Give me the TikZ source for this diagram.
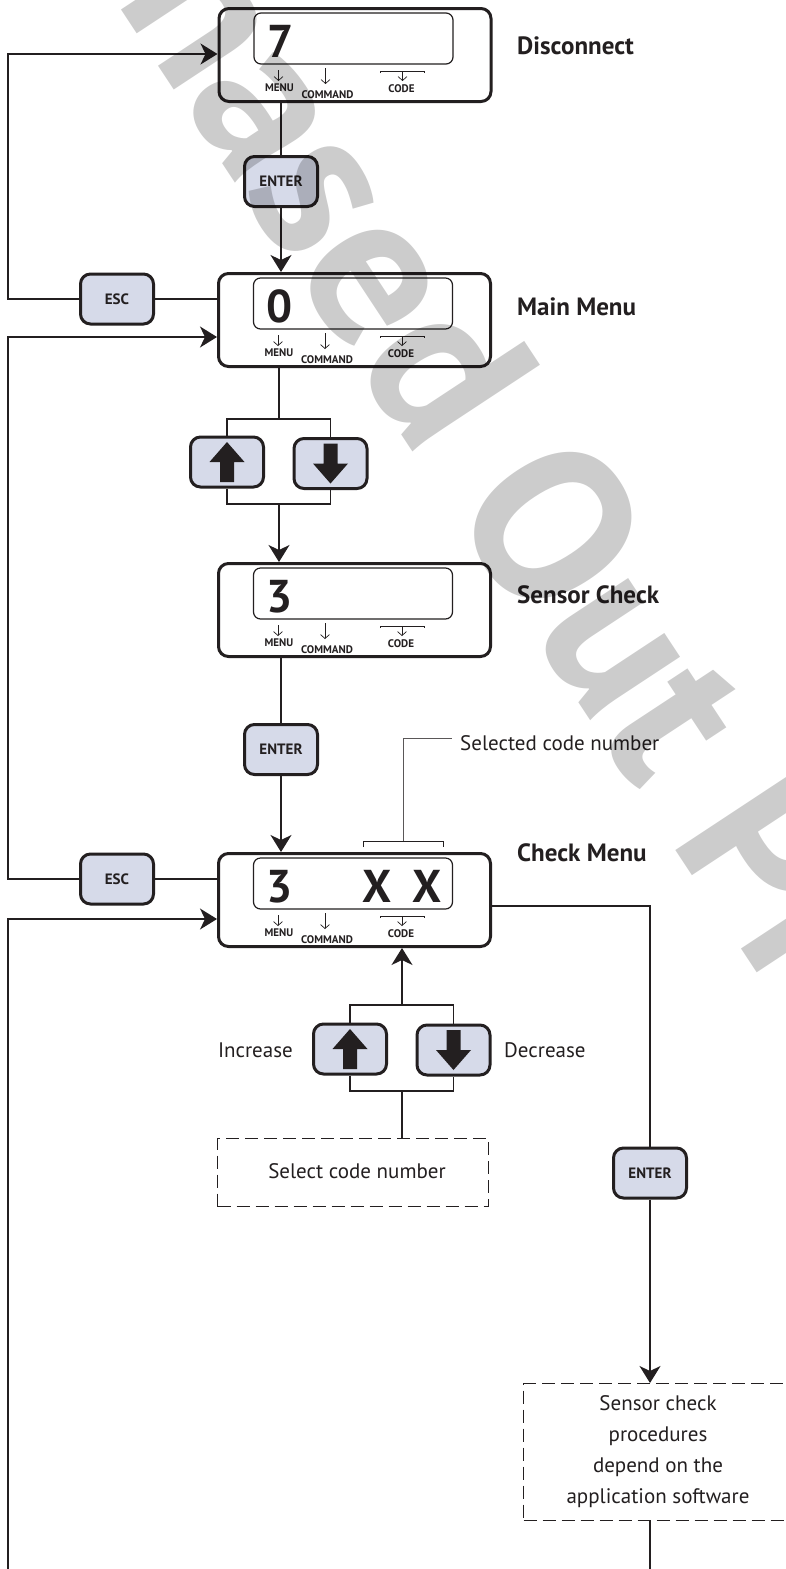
\documentclass[tikz,border=0pt]{standalone}
\usepackage{fontspec}
\setmainfont{PT Sans}
\usetikzlibrary{arrows.meta}
\definecolor{ink}{RGB}{35,31,32}
\definecolor{btn}{RGB}{214,218,233}
\tikzset{
  conn/.style={draw=ink, line width=1.3pt},
  arr/.style={conn, -{Stealth[length=17pt,width=21pt,inset=5pt]}},
  outerbox/.style={draw=ink, line width=3pt, rounded corners=10pt, minimum width=272pt, minimum height=93pt, inner sep=0pt, anchor=north west},
  innerbox/.style={draw=ink, line width=1.2pt, rounded corners=7pt},
  btnbox/.style={draw=ink, fill=btn, line width=3pt, rounded corners=10pt, minimum width=73pt, minimum height=50pt, inner sep=0pt, font=\bfseries\fontsize{15}{15}\selectfont, text=ink},
  dig/.style={font=\bfseries\fontsize{46}{46}\selectfont, text=ink, inner sep=0pt},
  lbl/.style={font=\bfseries\fontsize{11}{11}\selectfont, text=ink, inner sep=0pt},
  smallarr/.style={draw=ink, line width=0.7pt, -{Straight Barb[length=4pt,width=9pt]}},
  ttl/.style={font=\bfseries\fontsize{25}{25}\selectfont, text=ink, anchor=base west, inner sep=0pt},
  txt/.style={font=\fontsize{21}{21}\selectfont, text=ink, inner sep=0pt},
  dashbox/.style={draw=ink, line width=1pt, dash pattern=on 13pt off 6pt, inner sep=0pt, anchor=north west},
  leader/.style={draw=ink!75, line width=1pt},
  uparrow/.pic={\fill[ink] (0,-20) -- (17.5,0) -- (7,0) -- (7,20) -- (-7,20) -- (-7,0) -- (-17.5,0) -- cycle;},
  downarrow/.pic={\fill[ink] (0,20) -- (17.5,0) -- (7,0) -- (7,-20) -- (-7,-20) -- (-7,0) -- (-17.5,0) -- cycle;},
}
\newcommand\DispBox[5]{%
  \begin{scope}[shift={(#2,#3)}]
    \node[outerbox] (#1) at (0,0) {};
    \draw[innerbox] (36.5,6) rectangle (235.5,57);
    \node[dig] (#1-d) at (63,34.5) {#4};
    \draw[smallarr] (61,63) -- (61,74);
    \node[lbl] (#1-m) at (62,80.5) {MENU};
    \draw[smallarr] (108,61) -- (108,77);
    \node[lbl] (#1-c) at (110,87.5) {COMMAND};
    \draw[draw=ink, line width=0.7pt] (163,66) -- (163,64) -- (207,64) -- (207,66);
    \draw[smallarr] (185,64) -- (185,74);
    \node[lbl] (#1-k) at (184,81.3) {CODE};
    #5
  \end{scope}}
\begin{document}
\begin{tikzpicture}[x=1pt,y=-1pt]
\useasboundingbox (0,0) rectangle (786,1569);
\fill[white] (0,0) rectangle (786,1569);

% display boxes
\DispBox{b1}{217.5}{7}{7}{}
\DispBox{b2}{217}{272}{0}{}
\DispBox{b3}{217}{562}{3}{}
\DispBox{b4}{217}{852}{3}{\node[dig] (b4-x1) at (160.5,34.5) {X}; \node[dig] (b4-x2) at (210.5,34.5) {X};}

% titles
\node[ttl] (t1) at (517,54) {Disconnect};
\node[ttl] (t2) at (517,315) {Main Menu};
\node[ttl] (t3) at (517,603) {Sensor Check};
\node[ttl] (t4) at (517,861.5) {Check Menu};

% buttons
\node[btnbox] (ent1) at (281,181.5) {ENTER};
\node[btnbox] (esc1) at (117,299) {ESC};
\node[btnbox] (up1) at (227,462) {};
\node[btnbox] (dn1) at (330.5,463.5) {};
\node[btnbox] (ent2) at (281,749.5) {ENTER};
\node[btnbox] (esc2) at (117,879) {ESC};
\node[btnbox] (up2) at (350,1049) {};
\node[btnbox] (dn2) at (453.5,1050) {};
\node[btnbox] (ent3) at (650,1173) {ENTER};
\pic at (up1.center) {uparrow};
\pic at (dn1.center) {downarrow};
\pic at (up2.center) {uparrow};
\pic at (dn2.center) {downarrow};

% dashed boxes
\node[dashbox, minimum width=271pt, minimum height=68pt] (sel) at (217,1138) {};
\node[txt, anchor=base] (selt) at (357,1178) {Select code number};
\node[dashbox, minimum width=270pt, minimum height=137pt] (proc) at (523,1383) {};
\node[txt, anchor=base] (p1) at (658,1410) {Sensor check};
\node[txt, anchor=base] (p2) at (658,1441) {procedures};
\node[txt, anchor=base] (p3) at (658,1472) {depend on the};
\node[txt, anchor=base] (p4) at (658,1503) {application software};

% side labels
\node[txt, anchor=base east] (inc) at (293,1057) {Increase};
\node[txt, anchor=base west] (dec) at (504,1057) {Decrease};
\node[txt, anchor=base west] (sct) at (460,750) {Selected code number};

% coordinates
\coordinate (L1) at (8,299);
\coordinate (L1t) at (8,54);
\coordinate (L2a) at (8,878);
\coordinate (L2b) at (8,337);
\coordinate (L3a) at (8,1569);
\coordinate (L3b) at (8,919);
\coordinate (br1t) at (279,419);
\coordinate (br1b) at (279,504);
\coordinate (br2t) at (402,1005);
\coordinate (br2b) at (402,1091);
\coordinate (R1) at (650,906);
\coordinate (R2) at (650,1569);
\coordinate (sc) at (403,841);
\coordinate (scu) at (403,738);
\coordinate (sce) at (452,738);

% connectors
\draw[conn] (b1.south -| ent1) -- (ent1.north);
\draw[arr] (ent1.south) -- (ent1 |- b2.north);
\draw[conn] (b2.west |- esc1) -- (esc1.east);
\draw[arr] (esc1.west) -- (L1) -- (L1t) -- (L1t -| b1.west);
\draw[conn] (b2.south -| br1t) -- (br1t);
\draw[conn] (up1.north) -- (up1 |- br1t) -- (dn1 |- br1t) -- (dn1.north);
\draw[conn] (up1.south) -- (up1 |- br1b) -- (dn1 |- br1b) -- (dn1.south);
\draw[arr] (br1b) -- (br1b |- b3.north);
\draw[conn] (b3.south -| ent2) -- (ent2.north);
\draw[arr] (ent2.south) -- (ent2 |- b4.north);
\draw[conn] (b4.west |- esc2) -- (esc2.east);
\draw[arr] (esc2.west) -- (esc2 -| L2a) -- (L2b) -- (L2b -| b2.west);
\draw[arr] (L3a) -- (L3b) -- (L3b -| b4.west);
\draw[conn] (b4.east |- R1) -- (R1) -- (ent3.north);
\draw[arr] (ent3.south) -- (ent3 |- proc.north);
\draw[conn] (proc.south -| ent3) -- (R2);
\draw[arr] (br2t) -- (br2t |- b4.south);
\draw[conn] (up2.north) -- (up2 |- br2t) -- (dn2 |- br2t) -- (dn2.north);
\draw[conn] (up2.south) -- (up2 |- br2b) -- (dn2 |- br2b) -- (dn2.south);
\draw[conn] (br2b) -- (br2b |- sel.north);
\draw[draw=ink, line width=1pt] (363,847) -- (363,841) -- (443,841) -- (443,847);
\draw[leader] (sc) -- (scu) -- (sce);

% watermark
\begin{scope}
\clip (0,0) rectangle (786,1569);
\node[rotate=-56.6, anchor=base west, inner sep=0pt, font=\bfseries\fontsize{220}{220}\selectfont, text=black, text opacity=0.2] (wm) at (45,-106) {Phased Out Product};
\end{scope}
\end{tikzpicture}
\end{document}
